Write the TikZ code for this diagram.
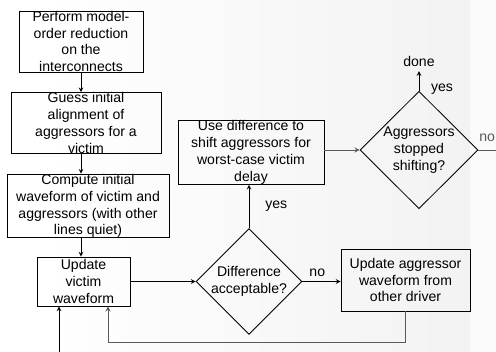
\documentclass[tikz,border=0pt]{standalone}
\usepackage{fontspec}
\setmainfont{Liberation Sans}
\usepackage{tikz}
\usetikzlibrary{shapes.geometric}

\tikzset{
  stepbox/.style={draw,line width=0.6pt,align=center,inner xsep=1pt,inner ysep=0pt},
  test/.style={draw,diamond,line width=0.6pt,align=center,inner sep=0pt,aspect=1},
  flow/.style={-stealth,line width=0.5pt},
  back/.style={-stealth,line width=0.6pt,black!65}
}

\begin{document}
\begin{tikzpicture}[x=0.025cm,y=-0.025cm,font=\fontsize{10}{12}\selectfont]
\useasboundingbox (0,0) rectangle (496,352);
\shade[left color=white,right color=black!5] (40,0) rectangle (470,352);
\fill[black!2] (470,0) rectangle (496,352);

\node[stepbox,minimum width=3.1cm,minimum height=1.525cm] (reduce) at (81,41.5) {Perform model-\\order reduction\\on the\\interconnects};
\node[stepbox,minimum width=3.75cm,minimum height=1.45cm] (guess) at (86,123) {Guess initial\\alignment of\\aggressors for a\\victim};
\node[stepbox,minimum width=4.05cm,minimum height=1.5cm] (compute) at (88,206) {Compute initial\\waveform of victim and\\aggressors (with other\\lines quiet)};
\node[stepbox,minimum width=2.325cm,minimum height=1.225cm] (victim) at (83.5,281.5) {Update\\victim\\waveform};
\node[test,minimum width=2.65cm,minimum height=2.45cm] (diff) at (249,281.5) {Difference\\acceptable?};
\node[stepbox,minimum width=3.65cm,minimum height=1.525cm] (shift) at (251,152.5) {Use difference to\\shift aggressors for\\worst-case victim\\delay};
\node[test,minimum width=2.95cm,minimum height=2.75cm] (stop) at (419,150) {Aggressors\\stopped\\shifting?};
\node[stepbox,minimum width=3.225cm,minimum height=1.55cm] (aggr) at (405.5,280) {Update aggressor\\waveform from\\other driver};
\node (done) at (419,61) {done};

\coordinate (entry) at (59,352);
\coordinate (loop) at (108,342);
\coordinate (out) at (496,150);

\draw[flow] (reduce.south) -- (reduce.south |- guess.north);
\draw[flow] (reduce.south |- guess.south) -- (reduce.south |- compute.north);
\draw[flow] (reduce.south |- compute.south) -- (reduce.south |- victim.north);
\draw[flow] (entry) -- (entry |- victim.south);
\draw[flow] (victim.east) -- (diff.west);
\draw[flow] (diff.north) -- (diff.north |- shift.south) node[midway,right=8pt] {yes};
\draw[flow] (diff.east) -- (aggr.west |- diff.east) node[midway,above,xshift=-3pt] {no};
\draw[back] (aggr.south) -- (aggr.south |- loop) -- (loop) -- (loop |- victim.south);
\draw[back] (shift.east |- stop.west) -- (stop.west);
\draw[flow] (stop.north) -- (done.south);
\node at (442,89) {yes};
\draw[line width=0.6pt,black!65] (stop.east) -- (out) node[pos=0.5,above=2pt] {no};
\end{tikzpicture}
\end{document}
